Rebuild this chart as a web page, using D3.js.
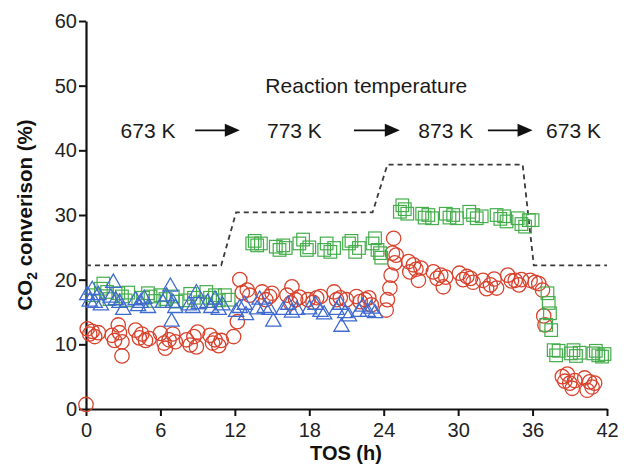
<!DOCTYPE html>
<html>
<head>
<meta charset="utf-8">
<script src="https://cdn.jsdelivr.net/npm/d3@7/dist/d3.min.js"></script>
<style>
  html, body { margin: 0; padding: 0; background: #fff; }
  svg { display: block; font-family: "Liberation Sans", Arial, sans-serif; }
</style>
</head>
<body>
<svg id="chart" width="624" height="465"></svg>
<script>
// CO2 conversion vs time on stream, [TOS (h), conversion (%)]
const circleSeries = [
  [0.0,0.7],
  [0.1,12.4],[0.3,11.6],[0.5,12.0],[0.7,11.2],[1.0,11.8],
  [2.1,11.4],[2.3,10.6],[2.6,13.0],[2.7,11.8],[2.9,10.4],[2.9,8.2],
  [4.0,12.2],[4.3,11.0],[4.5,11.6],[4.8,10.6],[5.1,10.9],
  [6.0,11.7],[6.3,10.2],[6.4,9.4],[6.7,10.7],[7.0,11.6],[7.2,10.4],
  [8.1,10.7],[8.4,9.9],[8.7,11.2],[8.9,9.6],[9.0,11.9],
  [10.0,11.4],[10.2,10.2],[10.4,10.7],[10.7,9.8],[10.9,10.6],
  [11.9,11.2],
  [12.2,13.5],[12.4,20.0],[12.6,18.0],[13.0,18.4],[13.2,17.6],
  [14.2,18.1],[14.5,16.9],[14.8,17.4],[15.0,17.9],
  [16.2,17.6],[16.5,16.4],[16.6,18.9],[16.9,16.9],[17.2,17.3],
  [17.9,16.9],[18.3,16.5],[18.6,17.2],[18.9,17.4],
  [20.0,18.1],[20.2,16.9],[20.5,17.2],[21.0,16.9],
  [21.8,17.4],[22.1,16.6],[22.5,16.9],[22.8,17.2],[23.0,16.1],
  [24.2,15.3],[24.3,16.9],[24.5,18.7],[24.6,20.7],[24.7,24.1],[24.8,26.4],[24.9,22.6],[25.0,23.8],
  [26.0,22.8],[26.1,21.2],[26.4,22.3],[26.6,21.6],[26.8,19.9],[27.0,21.8],
  [28.0,21.2],[28.3,20.2],[28.6,20.7],[28.8,18.9],[29.0,20.4],
  [30.1,21.0],[30.4,20.0],[30.7,20.5],[31.0,20.2],[31.2,19.6],
  [32.0,19.9],[32.3,18.6],[32.6,19.2],[32.9,20.1],[33.1,18.7],
  [34.0,20.7],[34.3,19.8],[34.6,19.9],[34.9,19.2],[35.1,20.0],
  [35.8,19.9],[36.2,19.6],[36.5,19.4],[36.8,18.4],[36.9,14.4],[37.0,13.0],
  [38.4,5.0],[38.6,4.3],[38.8,5.4],[39.0,4.0],[39.2,3.2],[39.4,4.4],
  [40.2,4.8],[40.4,2.9],[40.6,4.2],[40.8,3.4],[41.0,4.0]
];

const squareSeries = [
  [0.6,17.6],[1.2,18.6],[1.4,19.4],[1.7,18.1],[1.9,17.0],
  [2.6,17.9],[2.9,17.4],[3.2,16.8],[3.4,18.0],
  [4.6,17.2],[5.0,17.9],[5.2,17.4],[5.5,16.7],
  [6.0,17.6],[6.4,17.0],[7.0,17.4],[7.3,16.6],
  [8.0,16.8],[8.4,17.8],[8.7,17.2],[9.2,16.5],
  [9.7,18.1],[10.0,17.2],[10.4,17.6],[10.7,16.8],[11.2,17.6],[11.5,16.9],
  [13.4,25.6],[13.6,26.0],[13.8,25.3],[14.1,25.6],
  [15.3,25.1],[15.6,24.6],[15.9,25.3],[16.1,24.9],
  [17.2,25.6],[17.5,26.2],[17.8,24.6],[18.0,25.0],
  [19.2,24.6],[19.4,25.6],[19.7,24.3],[20.0,24.9],
  [21.2,25.6],[21.4,26.0],[21.7,24.3],[22.0,24.9],
  [23.1,25.6],[23.3,26.4],[23.5,24.6],[23.7,24.1],[23.8,23.4],
  [25.3,30.5],[25.5,31.5],[25.7,30.9],[25.9,30.2],
  [27.1,30.2],[27.3,29.6],[27.6,30.0],[27.9,29.5],
  [29.0,30.2],[29.3,29.6],[29.6,30.0],[29.9,29.5],
  [30.9,30.5],[31.2,30.0],[31.5,29.5],[31.9,29.8],
  [33.1,30.0],[33.4,29.4],[33.7,29.8],[33.9,29.0],
  [34.8,29.5],[35.1,28.6],[35.4,28.2],[35.7,29.2],[36.0,29.2],
  [37.2,17.9],[37.3,16.4],[37.4,14.8],[37.1,13.0],[37.5,12.2],
  [37.7,9.1],[37.9,8.3],[38.1,9.0],
  [39.1,8.6],[39.3,9.1],[39.5,8.2],[39.8,8.7],
  [40.9,8.6],[41.1,9.0],[41.3,8.3],[41.6,8.1],[41.8,8.5]
];

const triangleSeries = [
  [0.1,17.6],[0.3,16.6],[0.5,18.4],[0.7,16.4],[1.0,17.6],[1.2,16.0],
  [2.0,17.2],[2.2,19.5],[2.4,16.8],[2.7,16.4],[3.0,15.3],
  [4.0,16.8],[4.2,15.9],[4.4,16.4],[4.7,17.0],[5.0,15.6],
  [6.2,16.4],[6.5,17.4],[6.8,18.9],[7.0,16.4],[6.9,13.5],[7.2,15.6],
  [8.3,16.0],[8.6,15.6],[8.9,17.9],[9.1,16.2],
  [9.8,16.4],[10.1,15.6],[10.4,16.9],[10.7,15.3],[11.0,16.0],
  [12.1,15.0],[12.4,15.6],[12.8,16.1],[12.9,14.5],
  [13.8,15.4],[14.0,16.9],[14.4,15.6],[14.8,15.3],[15.1,13.5],
  [15.9,15.3],[16.3,16.1],[16.6,14.9],[17.0,15.3],
  [18.0,15.4],[18.5,16.1],[18.9,15.0],[19.2,14.6],
  [20.2,15.3],[20.5,16.1],[20.6,12.7],[20.9,14.8],[21.2,14.3],
  [22.0,15.0],[22.3,15.8],[22.7,15.0],[23.0,15.5],[23.3,14.8]
];

// Reaction temperature programme (dashed guide), [TOS (h), level on conversion axis]
const tempProfile = [
  [0,22.2],[10.9,22.2],[12.1,30.4],[23.1,30.4],[24.3,37.8],[35.2,37.8],[36.1,22.2],[42,22.2]
];

// Temperature stage labels: [centre TOS, text]
const stageLabels = [[5.0,"673 K"],[16.8,"773 K"],[29.0,"873 K"],[39.3,"673 K"]];
// Arrows between stages: [from TOS, to TOS]
const stageArrows = [[8.8,12.4],[21.6,25.3],[32.4,36.0]];

const xTicks = [0,6,12,18,24,30,36,42];
const yTicks = [0,10,20,30,40,50,60];

const svg = d3.select("#chart");
const x = d3.scaleLinear().domain([0,42]).range([86,607]);
const y = d3.scaleLinear().domain([0,60]).range([409,21]);

const red = "#d8432e", green = "#45ad4c", blue = "#3f6bd0";

// Axes
const xAxis = svg.append("g").attr("transform","translate(0,409)")
  .call(d3.axisBottom(x).tickValues(xTicks).tickSize(7).tickPadding(7).tickSizeOuter(0));
const yAxis = svg.append("g").attr("transform","translate(86,0)")
  .call(d3.axisLeft(y).tickValues(yTicks).tickSize(7).tickPadding(2).tickSizeOuter(0));
[xAxis, yAxis].forEach(g => {
  g.select(".domain").attr("stroke","#111").attr("stroke-width",2.2);
  g.selectAll(".tick line").attr("stroke","#111").attr("stroke-width",2);
  g.selectAll(".tick text").attr("fill","#222").style("font-size","20px")
    .style("font-family",'"Liberation Sans", Arial, sans-serif');
});

// Axis titles
svg.append("text").attr("x",346).attr("y",460).attr("text-anchor","middle")
  .style("font-size","20px").style("font-weight","bold").attr("fill","#111").text("TOS (h)");

const yt = svg.append("text").attr("transform",`translate(32,${(y(0)+y(60))/2}) rotate(-90)`)
  .attr("text-anchor","middle").style("font-size","20.5px").style("font-weight","bold").attr("fill","#111");
yt.append("tspan").text("CO");
yt.append("tspan").text("2").style("font-size","14px").attr("dy","5");
yt.append("tspan").text(" converison (%)").attr("dy","-5");

// Temperature guide
svg.append("path").datum(tempProfile)
  .attr("d", d3.line().x(d => x(d[0])).y(d => y(d[1])))
  .attr("fill","none").attr("stroke","#3a3a3a").attr("stroke-width",1.8)
  .attr("stroke-dasharray","5,4");

// Markers
const pts = svg.append("g");
pts.selectAll("circle").data(circleSeries).join("circle")
  .attr("cx", d => x(d[0])).attr("cy", d => y(d[1])).attr("r", 7.2)
  .attr("fill","none").attr("stroke", red).attr("stroke-width",1.3);

pts.selectAll("rect").data(squareSeries).join("rect")
  .attr("x", d => x(d[0]) - 6.3).attr("y", d => y(d[1]) - 6.3)
  .attr("width", 12.6).attr("height", 12.6)
  .attr("fill","none").attr("stroke", green).attr("stroke-width",1.2);

const tri = d3.symbol().type(d3.symbolTriangle).size(100);
pts.selectAll("path.tri").data(triangleSeries).join("path").attr("class","tri")
  .attr("transform", d => `translate(${x(d[0])},${y(d[1])})`)
  .attr("d", tri)
  .attr("fill","none").attr("stroke", blue).attr("stroke-width",1.3);

// Annotations
svg.append("text").attr("x", x(22.6)).attr("y", y(50) + 7).attr("text-anchor","middle")
  .style("font-size","21px").attr("fill","#1a1a1a").text("Reaction temperature");

svg.selectAll("text.stage").data(stageLabels).join("text").attr("class","stage")
  .attr("x", d => x(d[0])).attr("y", y(43.1) + 7.5).attr("text-anchor","middle")
  .style("font-size","21px").attr("fill","#1a1a1a").text(d => d[1]);

const ay = y(43.1);
const arrows = svg.append("g");
stageArrows.forEach(([a,b]) => {
  const xa = x(a), xb = x(b);
  arrows.append("line").attr("x1", xa).attr("x2", xb - 12).attr("y1", ay).attr("y2", ay)
    .attr("stroke","#111").attr("stroke-width",1.8);
  arrows.append("path")
    .attr("d", `M${xb},${ay} L${xb-15},${ay-6.5} L${xb-15},${ay+6.5} Z`)
    .attr("fill","#111");
});
</script>
</body>
</html>
